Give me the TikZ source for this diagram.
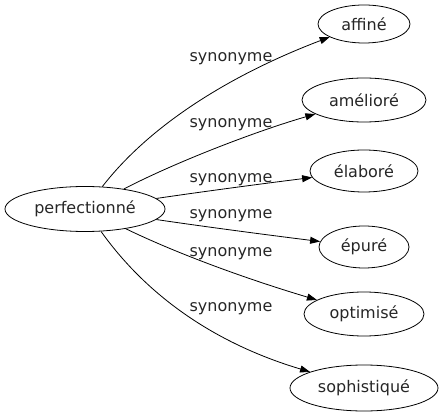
\documentclass[tikz,border=0pt]{standalone}
\usepackage{fontspec}
\setmainfont{DejaVu Sans}
\usetikzlibrary{arrows.meta,shapes.geometric}
\begin{document}
\begin{tikzpicture}[x=1pt,y=-1pt,
  every node/.style={font=\fontsize{16}{19}\selectfont,text=black!85},
  word/.style={draw=black,ellipse,inner sep=0pt,line width=0.8pt},
  lbl/.style={anchor=base,inner sep=0pt},
  edge/.style={draw,line width=0.8pt,-{Triangle[length=10pt,width=7pt]}}]
\useasboundingbox (0,0) rectangle (444,419);
\node[word,minimum width=160pt,minimum height=45pt] (p) at (85,209) {perfectionné};
\node[word,minimum width=92pt,minimum height=38pt] (a) at (364,24) {affiné};
\node[word,minimum width=124pt,minimum height=44pt] (b) at (364,100) {amélioré};
\node[word,minimum width=108pt,minimum height=42pt] (c) at (364,171) {élaboré};
\node[word,minimum width=90pt,minimum height=42pt] (d) at (364,247) {épuré};
\node[word,minimum width=120pt,minimum height=44pt] (e) at (364,314) {optimisé};
\node[word,minimum width=148pt,minimum height=46pt] (f) at (364,388) {sophistiqué};
\draw[edge] (p) .. controls (150,125) and (230,75) .. (a);
\draw[edge] (p) .. controls (180,160) and (260,130) .. (b);
\draw[edge] (p) .. controls (200,192) and (260,184) .. (c);
\draw[edge] (p) .. controls (200,226) and (260,234) .. (d);
\draw[edge] (p) .. controls (180,255) and (250,280) .. (e);
\draw[edge] (p) .. controls (150,300) and (220,345) .. (f);
\node[lbl] (l1) at (231,62) {synonyme};
\node[lbl] (l2) at (231,128) {synonyme};
\node[lbl] (l3) at (231,183) {synonyme};
\node[lbl] (l4) at (231,219) {synonyme};
\node[lbl] (l5) at (231,257) {synonyme};
\node[lbl] (l6) at (231,312) {synonyme};
\end{tikzpicture}
\end{document}
